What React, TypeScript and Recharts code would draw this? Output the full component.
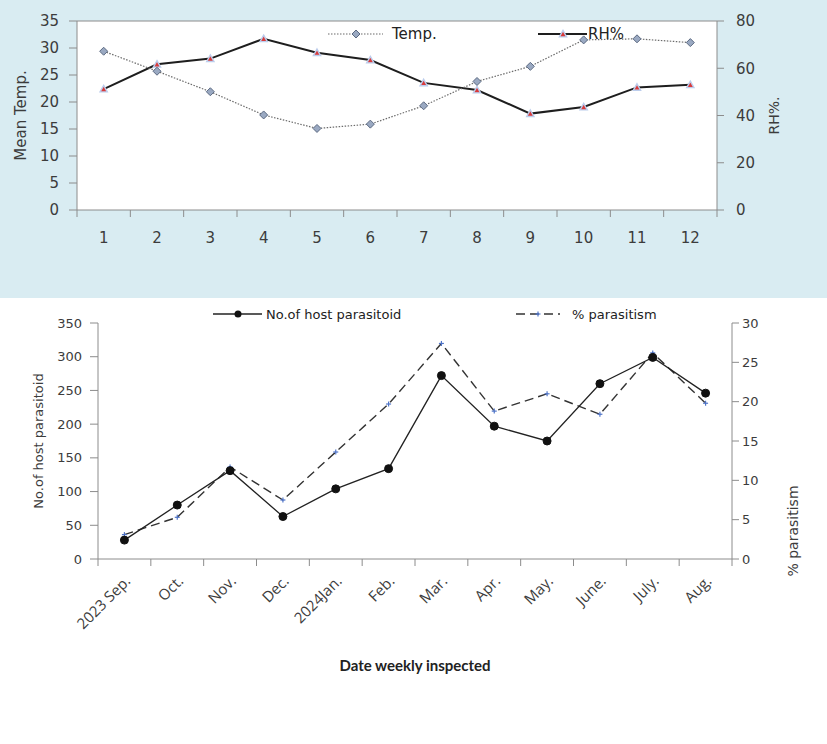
import React from 'react';
import { CartesianGrid, Legend, Line, LineChart, ReferenceLine, XAxis, YAxis } from 'recharts';

// ---- top panel: weekly climate
const weekNumbers = ['1', '2', '3', '4', '5', '6', '7', '8', '9', '10', '11', '12'];
const meanTemp = [29.4, 25.7, 21.9, 17.6, 15.1, 15.9, 19.3, 23.8, 26.6, 31.5, 31.7, 31.0];
const relHumidity = [51.2, 61.7, 64.1, 72.5, 66.6, 63.5, 53.8, 50.8, 40.8, 43.6, 51.9, 53.0];
const tempTicks = [0, 5, 10, 15, 20, 25, 30, 35];
const rhTicks = [0, 20, 40, 60, 80];

// ---- bottom panel: parasitoid counts
const inspected = ['2023 Sep.', 'Oct.', 'Nov.', 'Dec.', '2024Jan.', 'Feb.', 'Mar.', 'Apr.', 'May.', 'June.', 'July.', 'Aug.'];
const hostParasitoid = [28, 80, 131, 63, 104, 134, 272, 197, 175, 260, 299, 246];
const parasitism = [3.1, 5.3, 11.7, 7.5, 13.6, 19.7, 27.4, 18.8, 21.0, 18.4, 26.2, 19.8];
const hostTicks = [0, 50, 100, 150, 200, 250, 300, 350];
const parasitismTicks = [0, 5, 10, 15, 20, 25, 30];

const AXIS_GREY = '#8c8c8c';
const TEXT_DARK = '#3c3c3c';
const SANS = '"DejaVu Sans", Verdana, sans-serif';

const CHART_W = 827;
const TOP_H = 298;
const BOTTOM_H = 446;

const TOP_LEFT_W = 77;
const TOP_RIGHT_W = 110;
const BOT_LEFT_W = 98;
const BOT_RIGHT_W = 95;
const TOP_BAND = (CHART_W - TOP_LEFT_W - TOP_RIGHT_W) / weekNumbers.length;
const BOT_BAND = (CHART_W - BOT_LEFT_W - BOT_RIGHT_W) / inspected.length;

const climateData = weekNumbers.map((week, i) => ({ week, temp: meanTemp[i], rh: relHumidity[i] }));
const parasitoidData = inspected.map((month, i) => ({
  month,
  host: hostParasitoid[i],
  pct: parasitism[i],
}));

function DiamondDot(props: any) {
  const { cx, cy } = props;
  if (cx == null || cy == null) return null;
  const r = 4;
  return (
    <polygon
      points={`${cx},${cy - r} ${cx + r},${cy} ${cx},${cy + r} ${cx - r},${cy}`}
      fill="#9aa9c2"
      stroke="#5c6a82"
      strokeWidth={1}
    />
  );
}

function TriangleDot(props: any) {
  const { cx, cy } = props;
  if (cx == null || cy == null) return null;
  const r = 3.6;
  return (
    <polygon
      points={`${cx},${cy - r} ${cx + r},${cy + r * 0.8} ${cx - r},${cy + r * 0.8}`}
      fill="#d93a3a"
      stroke="#bccdec"
      strokeWidth={1.4}
    />
  );
}

function StarDot(props: any) {
  const { cx, cy } = props;
  if (cx == null || cy == null) return null;
  return (
    <g stroke="#4f74c8" strokeWidth={1.2}>
      <line x1={cx - 2.5} x2={cx + 2.5} y1={cy} y2={cy} />
      <line x1={cx} x2={cx} y1={cy - 2.5} y2={cy + 2.5} />
    </g>
  );
}

function SideTitle(props: any) {
  const vb = props.viewBox ?? { x: 0, y: 0, width: 0, height: 0 };
  const x = vb.x + props.dx;
  const y = vb.y + vb.height / 2 + (props.dy ?? 0);
  return (
    <text
      x={x}
      y={y}
      transform={`rotate(-90, ${x}, ${y})`}
      textAnchor="middle"
      dominantBaseline="central"
      fontFamily={SANS}
      fontSize={props.size}
      fill={TEXT_DARK}
    >
      {props.text}
    </text>
  );
}

function BottomTitle(props: any) {
  const vb = props.viewBox ?? { x: 0, y: 0, width: 0, height: 0 };
  return (
    <text
      x={vb.x + vb.width / 2}
      y={vb.y + 112}
      textAnchor="middle"
      fontFamily="Lato, sans-serif"
      fontWeight={700}
      fontSize={15}
      fill="#222"
    >
      Date weekly inspected
    </text>
  );
}

function WeekTick(props: any) {
  const { x, y, payload, index } = props;
  const half = TOP_BAND / 2;
  return (
    <g>
      <line x1={x - half} x2={x - half} y1={y} y2={y + 7} stroke={AXIS_GREY} />
      {index === weekNumbers.length - 1 && (
        <line x1={x + half} x2={x + half} y1={y} y2={y + 7} stroke={AXIS_GREY} />
      )}
      <text x={x} y={y + 33} textAnchor="middle" fontFamily={SANS} fontSize={15} fill={TEXT_DARK}>
        {payload.value}
      </text>
    </g>
  );
}

function MonthTick(props: any) {
  const { x, y, payload, index } = props;
  const half = BOT_BAND / 2;
  const tx = x + 7;
  const ty = y + 23;
  return (
    <g>
      <line x1={x - half} x2={x - half} y1={y} y2={y + 7} stroke={AXIS_GREY} />
      {index === inspected.length - 1 && (
        <line x1={x + half} x2={x + half} y1={y} y2={y + 7} stroke={AXIS_GREY} />
      )}
      <text
        x={tx}
        y={ty}
        transform={`rotate(-45, ${tx}, ${ty})`}
        textAnchor="end"
        fontFamily='"Open Sans", sans-serif'
        fontSize={15}
        fill={TEXT_DARK}
      >
        {payload.value}
      </text>
    </g>
  );
}

type LegendEntry = {
  label: string;
  left: number;
  centerY: number;
  lineW: number;
  gap: number;
  fontSize: number;
  swatch: React.ReactNode;
};

function PlacedLegend({ entries }: { entries: LegendEntry[] }) {
  return (
    <div style={{ position: 'relative', width: CHART_W, height: 0 }}>
      {entries.map((e) => (
        <div
          key={e.label}
          style={{
            position: 'absolute',
            left: e.left,
            top: e.centerY - 6,
            height: 12,
            display: 'flex',
            alignItems: 'center',
            whiteSpace: 'nowrap',
            fontFamily: SANS,
            fontSize: e.fontSize,
            color: '#222',
            lineHeight: 1,
          }}
        >
          <svg width={e.lineW} height={12} style={{ display: 'block', overflow: 'visible' }}>
            {e.swatch}
          </svg>
          <span style={{ marginLeft: e.gap }}>{e.label}</span>
        </div>
      ))}
    </div>
  );
}

const climateLegend: LegendEntry[] = [
  {
    label: 'Temp.',
    left: 328,
    centerY: 34,
    lineW: 55,
    gap: 9,
    fontSize: 15,
    swatch: (
      <g>
        <line x1={0} x2={55} y1={6} y2={6} stroke="#6b6b6b" strokeWidth={1.2} strokeDasharray="1.5 1.5" />
        <DiamondDot cx={28} cy={6} />
      </g>
    ),
  },
  {
    label: 'RH%',
    left: 538,
    centerY: 34,
    lineW: 49,
    gap: 1,
    fontSize: 15,
    swatch: (
      <g>
        <line x1={0} x2={49} y1={6} y2={6} stroke="#1e1e1e" strokeWidth={2} />
        <TriangleDot cx={25} cy={6} />
      </g>
    ),
  },
];

const parasitoidLegend: LegendEntry[] = [
  {
    label: 'No.of host parasitoid',
    left: 213,
    centerY: 16,
    lineW: 49,
    gap: 4,
    fontSize: 13,
    swatch: (
      <g>
        <line x1={0} x2={49} y1={6} y2={6} stroke="#222" strokeWidth={1.3} />
        <circle cx={25} cy={6} r={3.5} fill="#111" />
      </g>
    ),
  },
  {
    label: '% parasitism',
    left: 516,
    centerY: 16,
    lineW: 44,
    gap: 12,
    fontSize: 13,
    swatch: (
      <g>
        <line x1={0} x2={44} y1={6} y2={6} stroke="#333" strokeWidth={1.4} strokeDasharray="9 5" />
        <StarDot cx={22} cy={6} />
      </g>
    ),
  },
];

function ClimateChart() {
  return (
    <div style={{ width: CHART_W, height: TOP_H, background: '#d9ecf2' }}>
      <LineChart width={CHART_W} height={TOP_H} data={climateData} margin={{ top: 21, right: 0, bottom: 0, left: 0 }}>
        <CartesianGrid fill="#ffffff" horizontal={false} vertical={false} />
        <XAxis
          dataKey="week"
          height={TOP_H - 210}
          interval={0}
          padding={{ left: TOP_BAND / 2, right: TOP_BAND / 2 }}
          tickSize={0}
          tickMargin={0}
          axisLine={{ stroke: AXIS_GREY }}
          tickLine={false}
          tick={<WeekTick />}
        />
        <YAxis
          yAxisId="left"
          width={TOP_LEFT_W}
          domain={[0, 35]}
          ticks={tempTicks}
          tickSize={8}
          tickMargin={10}
          axisLine={{ stroke: AXIS_GREY }}
          tickLine={{ stroke: AXIS_GREY }}
          tick={{ fill: TEXT_DARK, fontSize: 15, fontFamily: SANS }}
          label={<SideTitle text="Mean Temp." dx={21} size={15} />}
        />
        <YAxis
          yAxisId="right"
          orientation="right"
          width={TOP_RIGHT_W}
          domain={[0, 80]}
          ticks={rhTicks}
          tickSize={7}
          tickMargin={12}
          axisLine={{ stroke: AXIS_GREY }}
          tickLine={{ stroke: AXIS_GREY }}
          tick={{ fill: TEXT_DARK, fontSize: 15, fontFamily: SANS }}
          label={<SideTitle text="RH%." dx={57} size={14} />}
        />
        <ReferenceLine yAxisId="left" y={35} stroke={AXIS_GREY} />
        <Legend
          layout="vertical"
          align="center"
          verticalAlign="middle"
          wrapperStyle={{ left: 0, top: 0, width: CHART_W }}
          content={() => <PlacedLegend entries={climateLegend} />}
        />
        <Line
          yAxisId="right"
          dataKey="rh"
          stroke="#1e1e1e"
          strokeWidth={2}
          dot={<TriangleDot />}
          activeDot={false}
          isAnimationActive={false}
        />
        <Line
          yAxisId="left"
          dataKey="temp"
          stroke="#6b6b6b"
          strokeWidth={1.2}
          strokeDasharray="1.5 1.5"
          dot={<DiamondDot />}
          activeDot={false}
          isAnimationActive={false}
        />
      </LineChart>
    </div>
  );
}

function ParasitoidChart() {
  return (
    <div style={{ width: CHART_W, height: BOTTOM_H, background: '#ffffff' }}>
      <LineChart width={CHART_W} height={BOTTOM_H} data={parasitoidData} margin={{ top: 25, right: 0, bottom: 0, left: 0 }}>
        <XAxis
          dataKey="month"
          height={BOTTOM_H - 261}
          interval={0}
          padding={{ left: BOT_BAND / 2, right: BOT_BAND / 2 }}
          tickSize={0}
          tickMargin={0}
          axisLine={{ stroke: AXIS_GREY }}
          tickLine={false}
          tick={<MonthTick />}
          label={<BottomTitle />}
        />
        <YAxis
          yAxisId="left"
          width={BOT_LEFT_W}
          domain={[0, 350]}
          ticks={hostTicks}
          tickSize={8}
          tickMargin={8}
          axisLine={{ stroke: AXIS_GREY }}
          tickLine={{ stroke: AXIS_GREY }}
          tick={{ fill: TEXT_DARK, fontSize: 13, fontFamily: SANS }}
          label={<SideTitle text="No.of host parasitoid" dx={38} size={13} />}
        />
        <YAxis
          yAxisId="right"
          orientation="right"
          width={BOT_RIGHT_W}
          domain={[0, 30]}
          ticks={parasitismTicks}
          tickSize={7}
          tickMargin={3}
          axisLine={{ stroke: AXIS_GREY }}
          tickLine={{ stroke: AXIS_GREY }}
          tick={{ fill: TEXT_DARK, fontSize: 13, fontFamily: SANS }}
          label={<SideTitle text="% parasitism" dx={61} dy={90} size={14} />}
        />
        <Legend
          layout="vertical"
          align="center"
          verticalAlign="middle"
          wrapperStyle={{ left: 0, top: 0, width: CHART_W }}
          content={() => <PlacedLegend entries={parasitoidLegend} />}
        />
        <Line
          yAxisId="right"
          dataKey="pct"
          stroke="#333"
          strokeWidth={1.4}
          strokeDasharray="9 5"
          dot={<StarDot />}
          activeDot={false}
          isAnimationActive={false}
        />
        <Line
          yAxisId="left"
          dataKey="host"
          stroke="#222"
          strokeWidth={1.3}
          dot={{ r: 4, fill: '#111', stroke: '#111', strokeWidth: 1 }}
          activeDot={false}
          isAnimationActive={false}
        />
      </LineChart>
    </div>
  );
}

export default function App() {
  return (
    <div style={{ position: 'absolute', left: 0, top: 0, width: CHART_W, height: 744, background: '#ffffff' }}>
      <ClimateChart />
      <ParasitoidChart />
    </div>
  );
}
